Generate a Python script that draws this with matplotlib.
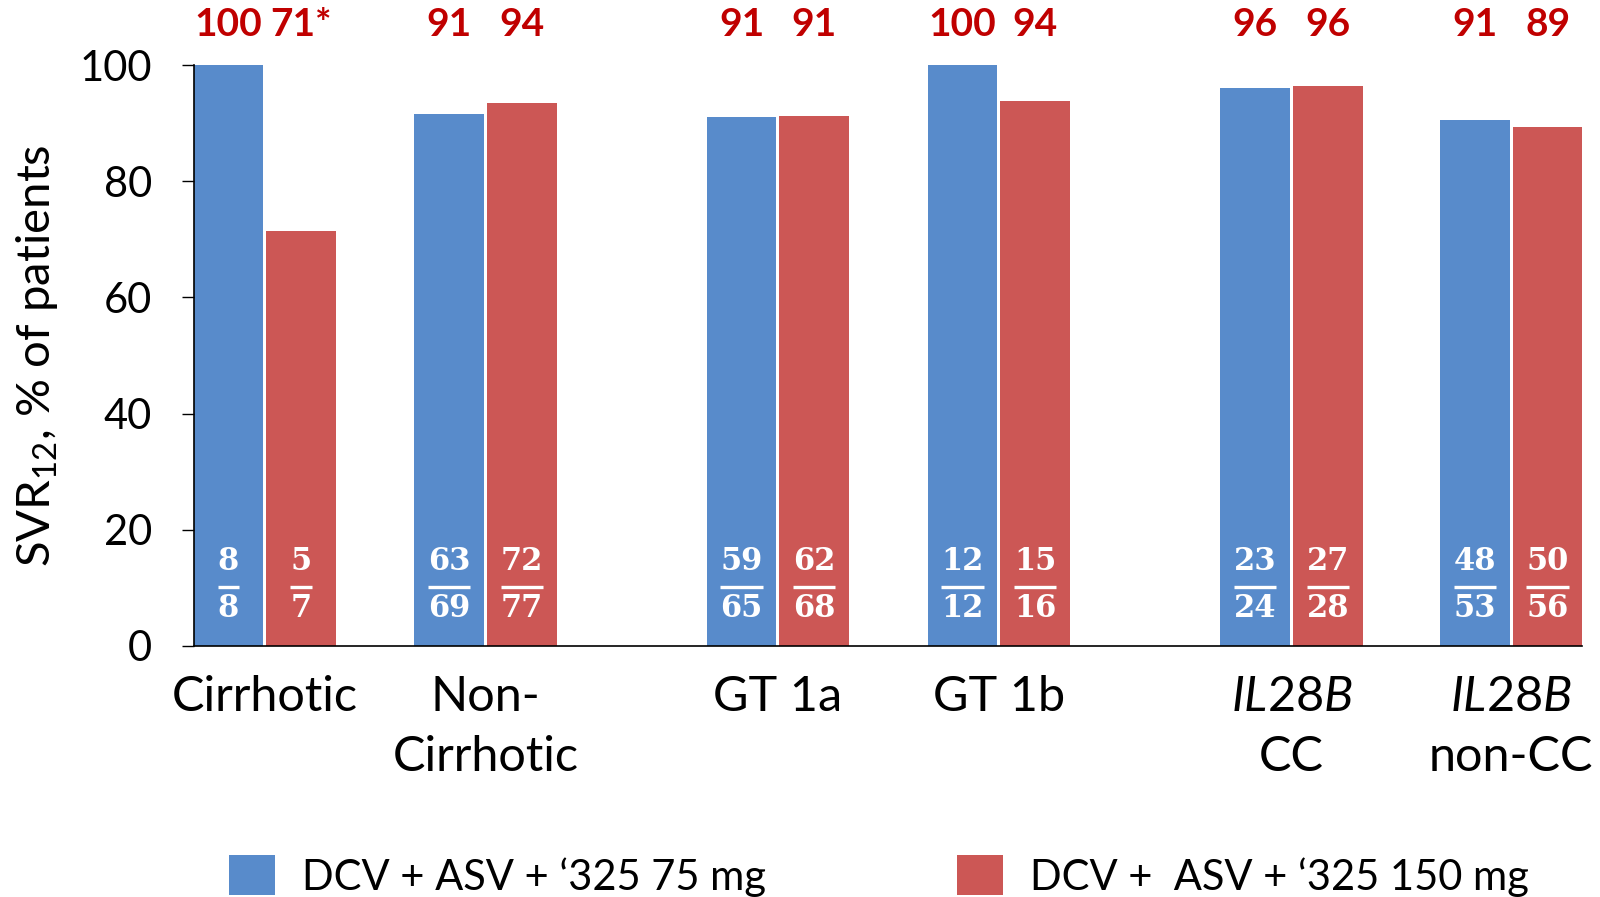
import matplotlib
matplotlib.use("Agg")
import matplotlib.pyplot as plt
import numpy as np

plt.rcParams['font.family'] = ['Lato', 'DejaVu Sans']
plt.rcParams['mathtext.fontset'] = 'custom'
plt.rcParams['mathtext.rm'] = 'Lato'
plt.rcParams['mathtext.it'] = 'Lato:italic'
plt.rcParams['mathtext.default'] = 'regular'

categories = ['Cirrhotic', 'Non-\nCirrhotic', 'GT 1a', 'GT 1b',
              '$\\mathit{IL28B}$\nCC', '$\\mathit{IL28B}$\nnon-CC']
svr_75 = [100, 91.5, 91, 100, 96, 90.6]
svr_150 = [71.4, 93.5, 91.2, 93.8, 96.4, 89.3]
top_75 = ['100', '91', '91', '100', '96', '91']
top_150 = ['71*', '94', '91', '94', '96', '89']
num_75 = [8, 63, 59, 12, 23, 48]
den_75 = [8, 69, 65, 12, 24, 53]
num_150 = [5, 72, 62, 15, 27, 50]
den_150 = [7, 77, 68, 16, 28, 56]
legend_labels = ['DCV + ASV + \u2018325 75 mg', 'DCV +  ASV + \u2018325 150 mg']

blue = '#588BCB'
red = '#CC5755'
dark_red = '#C00000'

# group centres: pairs are closer together than the gaps between pairs
xpos = np.array([0, 1, 2.324, 3.324, 4.65, 5.645])
w = 0.315
off = 0.1645

fig = plt.figure(figsize=(16, 8.97), dpi=100)
ax = fig.add_axes([0.121, 0.280, 0.868, 0.6475])

b1 = ax.bar(xpos - off, svr_75, w, color=blue, label=legend_labels[0])
b2 = ax.bar(xpos + off, svr_150, w, color=red, label=legend_labels[1])

ax.set_xlim(xpos[0] - off - w / 2, xpos[-1] + off + w / 2)
ax.set_ylim(0, 100)
ax.set_yticks(range(0, 101, 20))
ax.tick_params(axis='y', labelsize=30, length=9, width=1, pad=21, direction='out')
ax.set_xticks(xpos)
ax.set_xticklabels(categories, fontsize=35)
ax.tick_params(axis='x', length=0, pad=21)
for t in ax.get_xticklabels():
    t.set_linespacing(1.45)
ax.spines['top'].set_visible(False)
ax.spines['right'].set_visible(False)
ax.spines['left'].set_linewidth(1.2)
ax.spines['bottom'].set_linewidth(1.2)

ax.set_ylabel('SVR$_{12}$, % of patients', fontsize=34, labelpad=14)

# value labels above the plot
for xs, labs in ((xpos - off, top_75), (xpos + off, top_150)):
    for x, s in zip(xs, labs):
        ax.text(x, 107, s, ha='center', va='center', fontsize=28,
                fontweight='bold', color=dark_red, clip_on=False)

# n/N fractions inside the bars
for xs, nums, dens in ((xpos - off, num_75, den_75), (xpos + off, num_150, den_150)):
    for x, n, d in zip(xs, nums, dens):
        ax.text(x, 14.5, str(n), ha='center', va='center', fontsize=22,
                fontweight='bold', color='white', family='DejaVu Serif')
        ax.text(x, 6.4, str(d), ha='center', va='center', fontsize=22,
                fontweight='bold', color='white', family='DejaVu Serif')
        hw = 0.048 * max(len(str(n)), len(str(d)))
        ax.plot([x - hw, x + hw], [10.2, 10.2], color='white', lw=2.4,
                solid_capstyle='butt')

fig.legend(handles=[b1, b2], labels=legend_labels, loc='center left',
           bbox_to_anchor=(0.143, 0.0235), ncol=2, frameon=False, fontsize=30,
           handlelength=1.1, handleheight=1.1, handletextpad=0.65,
           columnspacing=4.6, borderpad=0, borderaxespad=0)

fig.savefig('out.png', dpi=100)
